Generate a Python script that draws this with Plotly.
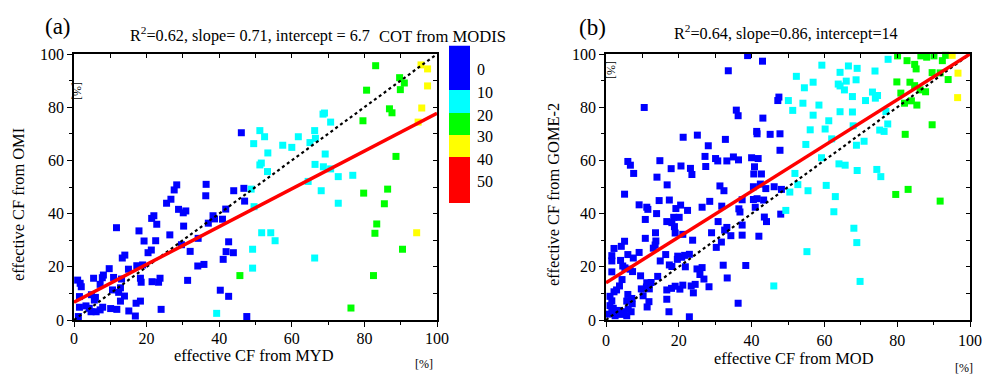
import plotly.graph_objects as go

# ---------------- data ----------------
# Panel (a): MYD (x) vs OMI (y), grouped by COT class
a_blue_x = [46.1,46.8,47.0,47.6,28.3,27.6,36.4,36.3,44.0,26.7,25.5,28.8,30.1,30.8,22.0,21.4,22.8,30.2,38.3,38.7,40.9,41.8,37.0,11.7,17.9,26.4,19.3,22.5,29.6,34.2,42.6,41.9,43.9,41.1,32.0,21.3,20.4,14.0,13.3,34.1,35.8,9.7,17.3,18.9,15.0,8.1,7.8,10.9,5.4,1.0,1.7,2.0,13.1,18.3,18.5,21.5,23.3,23.7,7.2,10.6,12.3,12.8,31.3,40.3,42.6,13.9,4.8,5.9,5.6,1.5,12.8,18.3,17.1,10.1,11.8,1.5,7.9,7.2,6.1,4.7,4.2,3.3,15.1,16.9,24.0,1.2]
a_blue_y = [70.4,49.5,44.7,1.3,50.8,48.9,51.0,46.7,48.6,45.4,43.9,41.6,40.3,41.0,39.2,38.2,36.0,35.3,39.2,38.0,37.9,41.7,36.4,34.7,33.5,32.0,29.7,29.8,28.3,30.7,29.4,25.7,25.3,22.8,25.8,26.3,25.3,24.4,23.3,20.3,20.9,19.3,20.4,20.7,19.1,16.9,15.9,16.0,15.7,15.0,13.8,12.5,15.4,15.7,14.2,14.4,14.2,15.7,13.4,11.3,10.4,12.1,14.9,11.2,8.9,9.0,9.5,8.5,7.5,8.8,7.1,7.1,6.3,4.3,4.0,4.8,4.8,3.8,3.1,3.1,4.4,5.3,3.4,1.5,4.0,1.3]
a_cyan_x = [68.6,69.0,70.7,51.2,52.5,49.5,66.3,61.8,57.5,60.0,65.0,66.5,53.4,69.2,51.2,51.6,53.3,66.4,68.7,70.7,64.5,72.8,76.8,68.1,48.8,49.6,72.8,51.7,54.2,55.4,49.2,66.3,49.2,39.3]
a_cyan_y = [77.4,77.8,74.4,71.2,68.9,66.3,71.2,68.9,65.7,64.9,66.7,68.3,62.8,62.4,58.3,59.0,55.8,58.5,57.6,56.8,52.1,53.9,54.4,48.6,49.2,42.6,43.9,32.8,32.8,29.8,26.6,23.3,19.5,2.5]
a_green_x = [83.1,89.7,91.0,89.9,80.6,86.9,87.6,79.6,88.7,79.8,86.4,85.5,83.4,82.9,90.5,45.7,82.5,76.3]
a_green_y = [95.6,91.1,89.1,86.6,86.4,79.4,77.9,74.9,61.5,47.7,49.2,43.7,36.1,32.6,26.6,16.7,16.7,4.5]
a_yellow_x = [95.6,97.4,97.4,95.8,94.8,94.4]
a_yellow_y = [95.9,94.4,88.0,79.7,74.4,32.8]
a_slope, a_intercept, a_r2 = 0.71, 6.7, 0.62

# Panel (b): MOD (x) vs GOME-2 (y)
b_blue_x = [38.9,43.0,33.6,10.5,47.5,47.2,35.8,36.3,43.1,21.2,25.1,41.4,41.5,45.1,47.8,28.1,32.8,47.8,27.2,30.1,30.7,35.0,36.4,33.2,40.0,41.8,6.0,6.7,7.6,14.8,17.9,20.6,23.2,23.6,27.4,40.8,40.6,42.7,14.0,
            16.8,31.3,32.4,5.1,40.5,42.4,43.9,46.2,48.2,37.4,40.5,41.5,41.0,43.3,9.1,11.2,11.5,14.6,17.4,20.5,19.2,22.4,26.4,28.5,31.8,36.5,36.8,13.9,10.8,16.7,18.6,18.1,18.8,20.1,30.8,33.2,32.6,43.5,44.1,37.4,37.4,13.6,19.0,21.1,29.0,34.3,42.0,10.8,23.8,13.7,13.5,13.0,31.7,30.3,5.1,4.2,2.2,6.0,7.5,9.1,1.6,1.6,4.0,16.4,14.9,19.7,19.6,20.8,21.6,22.9,17.4,18.1,21.8,25.0,26.4,25.8,26.9,32.2,38.4,5.2,6.6,7.3,4.6,1.6,9.5,14.2,33.3,11.2,12.4,11.1,11.9,4.4,3.7,2.9,2.2,16.7,18.0,19.0,20.3,21.1,23.4,24.5,24.0,28.3,6.0,7.1,5.7,7.2,1.1,1.6,9.7,10.2,11.8,11.3,16.7,17.3,22.9,36.3,1.1,2.0,2.9,4.0,5.0,6.1,0.6,2.5,5.7,6.9,1.6,3.7,48.0]
b_blue_y = [99.4,97.3,93.7,79.9,83.8,82.5,78.9,76.8,75.9,68.7,69.5,70.9,70.0,69.8,70.0,65.5,67.9,63.8,61.5,60.7,59.8,61.3,60.2,59.8,61.0,60.7,59.6,58.2,55.1,59.9,56.9,57.9,57.0,54.7,57.7,57.6,54.9,54.9,53.7,
            50.8,50.4,48.6,47.3,50.1,51.1,49.4,50.1,49.1,45.2,45.3,45.6,42.4,45.1,43.3,42.4,41.6,44.9,45.1,43.2,41.9,41.2,42.4,44.6,42.8,41.8,40.6,40.0,37.8,37.0,38.6,36.6,35.1,38.6,37.0,34.8,33.8,38.7,37.0,35.7,31.9,32.8,32.7,32.2,32.8,31.7,31.5,30.7,30.0,29.7,28.2,27.0,29.3,27.3,29.6,27.7,26.9,24.6,23.3,25.4,24.2,22.2,22.4,24.6,22.2,24.0,22.8,23.6,24.3,24.7,20.7,20.1,20.0,19.2,19.7,17.1,15.4,20.6,20.5,19.6,19.1,18.2,20.3,18.1,16.6,16.4,15.8,14.0,14.1,12.4,11.7,15.2,12.8,11.3,10.6,11.3,11.9,12.7,11.6,13.1,12.8,13.4,10.2,12.5,9.6,8.1,7.1,6.1,8.9,7.2,11.7,9.1,6.9,4.9,7.8,3.1,1.2,6.3,5.4,4.4,2.9,2.1,3.1,4.1,2.2,1.6,1.6,3.1,3.4,3.6,39.8]
b_cyan_x = [59.3,66.6,69.0,64.3,77.5,73.9,52.3,56.9,54.5,63.8,64.3,65.5,66.0,68.7,67.7,73.2,74.6,74.0,71.3,50.1,54.1,58.5,51.3,64.3,67.7,56.9,61.2,76.9,67.9,77.4,56.1,60.2,75.2,76.4,62.0,70.9,68.8,54.9,59.2,64.0,65.7,69.0,74.4,75.5,51.9,52.7,60.5,55.5,50.5,63.0,49.4,62.6,68.1,68.9,55.2,69.8,46.1]
b_cyan_y = [95.8,95.5,94.6,93.1,98.0,93.6,91.6,89.4,87.3,88.7,88.0,86.5,89.8,90.3,84.0,85.7,84.4,83.4,82.5,82.5,81.5,80.8,78.8,78.3,78.2,77.0,74.9,78.4,73.0,73.7,71.5,71.8,71.4,70.9,68.1,67.2,65.7,66.0,61.0,58.7,58.2,56.2,56.6,53.9,55.1,50.9,50.6,48.6,48.1,46.4,41.2,40.7,34.5,29.1,25.7,14.5,12.8]
b_green_x = [80.1,82.7,84.8,85.2,86.5,88.1,90.1,92.4,93.3,79.9,83.5,84.8,89.6,91.8,94.0,81.0,82.0,83.9,85.4,87.8,86.3,89.6,82.2,83.0,79.6,91.8]
b_green_y = [99.3,97.5,96.1,94.4,99.3,98.8,99.3,97.5,99.5,89.5,89.4,88.1,93.0,92.9,90.4,85.3,81.5,82.4,80.8,85.8,86.5,73.4,69.8,49.1,47.2,44.7]
b_yellow_x = [95.1,96.7,96.6]
b_yellow_y = [99.5,92.8,83.6]
b_slope, b_intercept, b_r2 = 0.86, 14, 0.64

cot_labels = ["0", "10", "20", "30", "40", "50"]
cot_colors = ["#0000FF", "#00FFFF", "#00FF00", "#FFFF00", "#FF0000"]

W, H = 984, 374
FONT = "Liberation Serif"

def px(x):
    return x / W

def py(y):
    return 1 - y / H

fig = go.Figure()

def add_points(xs, ys, color, xa, ya):
    fig.add_trace(go.Scatter(x=xs, y=ys, mode="markers", xaxis=xa, yaxis=ya,
                             marker=dict(symbol="square", size=7, color=color, line=dict(width=0)),
                             cliponaxis=False, showlegend=False, hoverinfo="skip"))

add_points(a_blue_x, a_blue_y, cot_colors[0], "x", "y")
add_points(a_cyan_x, a_cyan_y, cot_colors[1], "x", "y")
add_points(a_green_x, a_green_y, cot_colors[2], "x", "y")
add_points(a_yellow_x, a_yellow_y, cot_colors[3], "x", "y")
add_points(b_blue_x, b_blue_y, cot_colors[0], "x2", "y2")
add_points(b_cyan_x, b_cyan_y, cot_colors[1], "x2", "y2")
add_points(b_green_x, b_green_y, cot_colors[2], "x2", "y2")
add_points(b_yellow_x, b_yellow_y, cot_colors[3], "x2", "y2")

line_x = [0, 100]
for xa, ya, s, b in [("x", "y", a_slope, a_intercept), ("x2", "y2", b_slope, b_intercept)]:
    fig.add_trace(go.Scatter(x=line_x, y=line_x, mode="lines", xaxis=xa, yaxis=ya,
                             line=dict(color="black", width=2.2, dash="dot"),
                             cliponaxis=False, showlegend=False, hoverinfo="skip"))
    fig.add_trace(go.Scatter(x=line_x, y=[b + s * v for v in line_x], mode="lines", xaxis=xa, yaxis=ya,
                             line=dict(color="#FF0000", width=3.5),
                             cliponaxis=False, showlegend=False, hoverinfo="skip"))

tickfont = dict(family=FONT, size=16, color="black")

def main_axis(domain, anchor, standoff=0):
    return dict(domain=domain, anchor=anchor, range=[0, 100], dtick=20, tick0=0,
                ticks="outside", ticklen=5, tickwidth=1.3, tickcolor="black",
                minor=dict(dtick=10, ticks="outside", ticklen=3, tickwidth=1.3, tickcolor="black"),
                showline=True, linecolor="black", linewidth=1.6, mirror=True,
                showgrid=False, zeroline=False, tickfont=tickfont, automargin=False,
                ticklabelstandoff=standoff)

def over_axis(ov, anchor, side):
    return dict(overlaying=ov, anchor=anchor, side=side, range=[0, 100], dtick=10, tick0=0,
                ticks="inside", ticklen=4, tickwidth=1.3, tickcolor="black",
                showticklabels=False, showgrid=False, zeroline=False, showline=False,
                automargin=False)

yd = [py(320), py(54)]
fig.update_layout(
    width=W, height=H, margin=dict(l=0, r=0, t=0, b=0, autoexpand=False),
    paper_bgcolor="white", plot_bgcolor="white",
    xaxis=main_axis([px(74), px(437)], "y", standoff=-2),
    yaxis=main_axis(yd, "x"),
    xaxis2=main_axis([px(606), px(970)], "y2"),
    yaxis2=main_axis(yd, "x2"),
    xaxis3=over_axis("x", "y", "top"),
    yaxis3=over_axis("y", "x", "right"),
    xaxis4=over_axis("x2", "y2", "top"),
    yaxis4=over_axis("y2", "x2", "right"),
)

# empty traces so the overlay axes are drawn
for xa, ya in [("x3", "y3"), ("x4", "y4")]:
    fig.add_trace(go.Scatter(x=[], y=[], xaxis=xa, yaxis=ya, showlegend=False, hoverinfo="skip"))

ann = []
def txt(t, x, y, size, xanchor="center", yanchor="middle", angle=0):
    ann.append(dict(text=t, x=px(x), y=py(y), xref="paper", yref="paper", showarrow=False,
                    xanchor=xanchor, yanchor=yanchor, textangle=angle,
                    font=dict(family=FONT, size=size, color="black")))

txt("(a)", 58, 26, 23)
txt("(b)", 592, 28, 23)
txt(f"R<sup>2</sup>={a_r2}, slope= {a_slope}, intercept = {a_intercept}", 128, 34, 16.2, xanchor="left")
txt("COT from MODIS", 377, 37, 16.6, xanchor="left")
txt(f"R<sup>2</sup>={b_r2}, slope={b_slope}, intercept={b_intercept}", 672, 32, 16.2, xanchor="left")
txt("effective CF from MYD", 254, 355, 16.4)
txt("effective CF from MOD", 794, 358, 16.4)
txt("[%]", 424, 364, 12)
txt("[%]", 964, 368, 12)
txt("effective CF from OMI", 18, 205, 16.4, angle=-90)
txt("effective CF from GOME-2", 553, 195, 16.4, angle=-90)
txt("[%]", 77, 91, 12, angle=90)
txt("[%]", 611, 70, 12, angle=90)

# COT colour key
bounds = [45.7, 90, 113, 135, 157, 203]
shapes = []
for i, c in enumerate(cot_colors):
    shapes.append(dict(type="rect", xref="paper", yref="paper", x0=px(449), x1=px(470),
                       y0=py(bounds[i + 1]), y1=py(bounds[i]), fillcolor=c, line=dict(width=0)))
label_y = [70, 92.7, 115, 136.7, 160, 181.7]
for lab, yy in zip(cot_labels, label_y):
    txt(lab, 475, yy, 16, xanchor="left")

fig.update_layout(annotations=ann, shapes=shapes)
fig.write_html("out.html")
